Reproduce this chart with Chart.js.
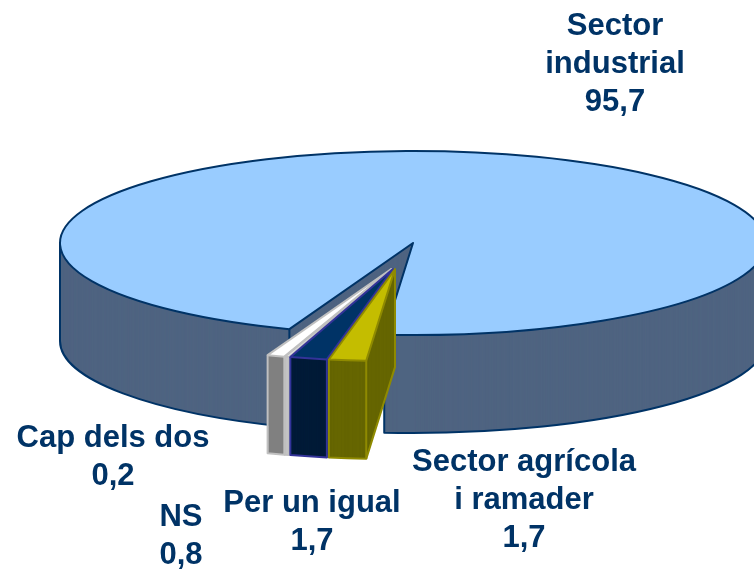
<!DOCTYPE html>
<html>
<head>
<meta charset="utf-8">
<script src="https://cdn.jsdelivr.net/npm/chart.js@4"></script>
<style>
  body { margin: 0; background: #fff; }
</style>
</head>
<body>
<canvas id="myChart" width="754" height="571"></canvas>
<script>
// data, clockwise starting from the big slice
const categories = [['Sector', 'industrial'], ['Sector agrícola', 'i ramader'], ['Per un igual'], ['Cap dels dos'], ['NS']];
const values = [95.7, 1.7, 1.7, 0.2, 0.8];

// colors of each slice
const topColors = ['#99ccff', '#c4bd00', '#003366', '#e8e8e8', '#ffffff'];
const wallColors = ['#4f6481', '#666600', '#001b38', '#c4c4c4', '#808080'];
const edgeColors = ['#003366', '#8f8a00', '#333399', '#c0c0c0', '#c0c0c0'];

// where each label goes (center of first line)
const labelX = [615, 524, 312, 113, 181];
const labelY = [26, 462, 503, 438, 517];
const lineGap = 38;

// fake 3d settings
const squash = 0.2606;
const depth = 98;
const pieCenterX = 413;
const pieCenterY = 243;
const explode = 102;

const rad = Math.PI / 180;

function placePie(ctx, arc, shiftX, shiftY, down) {
    // moves the flat pie from chart.js to the place of the tilted one
    const moveX = pieCenterX - arc.x + shiftX;
    const moveY = pieCenterY - squash * arc.y + shiftY * squash + down;
    ctx.transform(1, 0, 0, squash, moveX, moveY);
}

function sliceShift(arc, i) {
    if (i == 0) return [0, 0];
    // small slices go almost all in the same direction
    const mid = ((arc.startAngle + arc.endAngle) / 2) % (2 * Math.PI);
    const dir = mid * 0.19 + 81.6 * rad;
    return [Math.cos(dir) * explode, Math.sin(dir) * explode];
}

function drawFlat(ctx, arc, color, shift, down) {
    const saved = arc.options;
    arc.options = Object.assign({}, saved, { backgroundColor: color, borderWidth: 0 });
    ctx.save();
    placePie(ctx, arc, shift[0], shift[1], down);
    arc.draw(ctx);
    ctx.restore();
    arc.options = saved;
}

function strokeEdges(ctx, arc, i, shift) {
    const r = arc.outerRadius;
    // angles of the small slices can be past one full turn
    const turns = Math.floor(arc.startAngle / (2 * Math.PI));
    ctx.strokeStyle = edgeColors[i];
    ctx.lineWidth = 2;
    ctx.lineJoin = 'round';

    // bottom border and verticals, only the front half can be seen
    for (let k = turns; k < turns + 2; k++) {
        const from = Math.max(arc.startAngle, k * 2 * Math.PI);
        const to = Math.min(arc.endAngle, Math.PI + k * 2 * Math.PI);
        if (to <= from) continue;
        ctx.beginPath();
        ctx.save();
        placePie(ctx, arc, shift[0], shift[1], 0);
        ctx.moveTo(arc.x + Math.cos(from) * r, arc.y + Math.sin(from) * r);
        ctx.restore();
        ctx.save();
        placePie(ctx, arc, shift[0], shift[1], depth);
        ctx.lineTo(arc.x + Math.cos(from) * r, arc.y + Math.sin(from) * r);
        ctx.arc(arc.x, arc.y, r, from, to);
        ctx.restore();
        ctx.save();
        placePie(ctx, arc, shift[0], shift[1], 0);
        ctx.lineTo(arc.x + Math.cos(to) * r, arc.y + Math.sin(to) * r);
        ctx.restore();
        ctx.stroke();
    }

    // wall on the right side of the small slices
    if (i > 0) {
        ctx.beginPath();
        ctx.save();
        placePie(ctx, arc, shift[0], shift[1], depth);
        ctx.moveTo(arc.x + Math.cos(arc.startAngle) * r, arc.y + Math.sin(arc.startAngle) * r);
        ctx.lineTo(arc.x, arc.y);
        ctx.restore();
        ctx.save();
        placePie(ctx, arc, shift[0], shift[1], 0);
        ctx.lineTo(arc.x, arc.y);
        ctx.restore();
        ctx.stroke();
    }

    // top face
    ctx.beginPath();
    ctx.save();
    placePie(ctx, arc, shift[0], shift[1], 0);
    ctx.moveTo(arc.x, arc.y);
    ctx.arc(arc.x, arc.y, r, arc.startAngle, arc.endAngle);
    ctx.closePath();
    ctx.restore();
    ctx.stroke();
}

const pie3d = {
    id: 'pie3d',
    beforeDatasetsDraw(chart) {
        const ctx = chart.ctx;
        const arcs = chart.getDatasetMeta(0).data;
        // big slice first, then from left to right
        const order = [0, 4, 3, 2, 1];
        order.forEach((i) => {
            const arc = arcs[i];
            const shift = sliceShift(arc, i);
            for (let d = depth; d > 0; d -= 0.5) {
                drawFlat(ctx, arc, wallColors[i], shift, d);
            }
            drawFlat(ctx, arc, topColors[i], shift, 0);
            strokeEdges(ctx, arc, i, shift);
        });

        // labels
        ctx.save();
        ctx.fillStyle = '#003366';
        ctx.font = 'bold 31px "Liberation Sans", Arial, sans-serif';
        ctx.textAlign = 'center';
        ctx.textBaseline = 'middle';
        categories.forEach((lines, i) => {
            const text = lines.concat(String(values[i]).replace('.', ','));
            text.forEach((t, n) => {
                ctx.fillText(t, labelX[i], labelY[i] + n * lineGap);
            });
        });
        ctx.restore();
        return false;
    }
};

const atx = document.getElementById('myChart').getContext('2d');
const pieChart = new Chart(atx, {
    type: 'pie',
    data: {
        labels: categories.map((c) => c.join(' ')),
        datasets: [{
            data: values,
            backgroundColor: topColors,
            borderWidth: 0
        }]
    },
    options: {
        responsive: false,
        animation: false,
        rotation: 200.5,
        radius: 353,
        plugins: {
            legend: { display: false },
            tooltip: { enabled: false }
        }
    },
    plugins: [pie3d]
});
</script>
</body>
</html>
